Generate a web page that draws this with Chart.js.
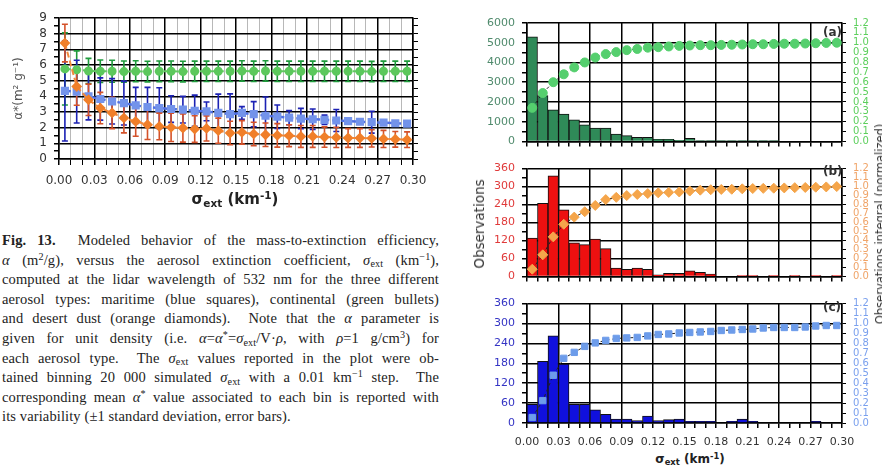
<!DOCTYPE html>
<html><head><meta charset="utf-8">
<script src="https://cdn.jsdelivr.net/npm/chart.js@4/dist/chart.umd.min.js"></script>
<style>
html,body{margin:0;padding:0;background:#fff}
body{width:882px;height:466px;position:relative;overflow:hidden;font-family:"DejaVu Sans",sans-serif}
canvas{position:absolute}
.cap{position:absolute;left:2px;top:231px;width:437px;font-family:"Liberation Serif","Times New Roman",serif;font-size:14.5px;letter-spacing:0.12px;color:#222}
.cap .l{height:19.6px;line-height:19.6px;text-align:justify;text-align-last:justify;white-space:nowrap}
.cap .last{text-align-last:left}
.cap sup,.cap sub{font-size:0.7em;line-height:0;position:relative;vertical-align:baseline}
.cap sup{top:-0.5em}
.cap sub{top:0.25em}
.t{position:absolute;white-space:nowrap;color:#222}
.t sub,.t sup{font-size:0.7em;line-height:0;position:relative;vertical-align:baseline}
.t sup{top:-0.5em}
.t sub{top:0.25em}
.rot{transform:translate(-50%,-50%) rotate(-90deg)}
</style></head><body>
<canvas id="cL" width="440" height="192" style="left:0;top:0"></canvas>
<canvas id="cA" width="412" height="155" style="left:470px;top:0"></canvas>
<canvas id="cB" width="412" height="135" style="left:470px;top:155px"></canvas>
<canvas id="cC" width="412" height="160" style="left:470px;top:290px"></canvas>

<div class="t" style="left:235px;top:199px;transform:translate(-50%,-50%);font-weight:bold;font-size:15px">σ<sub>ext</sub> (km<sup>-1</sup>)</div>
<div class="t" style="left:690px;top:459px;transform:translate(-50%,-50%);font-weight:bold;font-size:12px">σ<sub>ext</sub> (km<sup>-1</sup>)</div>
<div class="t rot" style="left:479px;top:224px;font-size:13.5px;color:#333">Observations</div>
<div class="t rot" style="left:880px;top:224px;font-size:11.5px;color:#333">Observations integral (normalized)</div>
<div class="t" style="left:823px;top:25px;font-size:12px;font-weight:bold;color:#333">(a)</div>
<div class="t" style="left:823px;top:164px;font-size:12px;font-weight:bold;color:#333">(b)</div>
<div class="t" style="left:823px;top:300px;font-size:12px;font-weight:bold;color:#333">(c)</div>

<div class="cap">
<div class="l"><b>Fig. 13.</b>&nbsp; Modeled behavior of the mass-to-extinction efficiency,</div>
<div class="l"><i>α</i> (m<sup>2</sup>/g), versus the aerosol extinction coefficient, <i>σ</i><sub>ext</sub> (km<sup>−1</sup>),</div>
<div class="l">computed at the lidar wavelength of 532 nm for the three different</div>
<div class="l">aerosol types: maritime (blue squares), continental (green bullets)</div>
<div class="l">and desert dust (orange diamonds). &nbsp;Note that the <i>α</i> parameter is</div>
<div class="l">given for unit density (i.e. <i>α</i>=<i>α</i><sup>*</sup>=<i>σ</i><sub>ext</sub>/V·<i>ρ</i>, with <i>ρ</i>=1 g/cm<sup>3</sup>) for</div>
<div class="l">each aerosol type. &nbsp;The <i>σ</i><sub>ext</sub> values reported in the plot were ob-</div>
<div class="l">tained binning 20 000 simulated <i>σ</i><sub>ext</sub> with a 0.01 km<sup>−1</sup> step. &nbsp;The</div>
<div class="l">corresponding mean <i>α</i><sup>*</sup> value associated to each bin is reported with</div>
<div class="l last">its variability (±1 standard deviation, error bars).</div>
</div>

<script>
// ---------- data ----------
const binCenters = [0.005,0.015,0.025,0.035,0.045,0.055,0.065,0.075,0.085,0.095,0.105,0.115,0.125,0.135,0.145,0.155,0.165,0.175,0.185,0.195,0.205,0.215,0.225,0.235,0.245,0.255,0.265,0.275,0.285,0.295];
const xTickLabels = ['0.00','0.03','0.06','0.09','0.12','0.15','0.18','0.21','0.24','0.27','0.30'];
const alphaTickLabels = ['0','1','2','3','4','5','6','7','8','9'];
const obsTickLabelsA = ['0','1000','2000','3000','4000','5000','6000'];
const obsTickLabelsBC = ['0','60','120','180','240','300','360'];
const integralTickLabels = ['0.0','0.1','0.2','0.3','0.4','0.5','0.6','0.7','0.8','0.9','1.0','1.1','1.2'];

// left plot: mean alpha* and standard deviation per bin
const continentalMean = [5.75,5.7,5.62,5.6,5.6,5.58,5.6,5.58,5.6,5.6,5.58,5.6,5.6,5.6,5.6,5.62,5.6,5.62,5.6,5.6,5.6,5.6,5.6,5.6,5.6,5.6,5.58,5.6,5.6,5.6];
const continentalSd   = [2.3,1.2,0.8,0.72,0.7,0.68,0.67,0.66,0.66,0.66,0.66,0.65,0.65,0.65,0.65,0.65,0.65,0.65,0.65,0.65,0.65,0.65,0.65,0.65,0.65,0.65,0.65,0.65,0.65,0.65];
const maritimeMean = [4.35,4.3,4.0,3.83,3.68,3.57,3.42,3.32,3.25,3.19,3.15,3.08,3.04,2.94,2.86,2.94,2.86,2.76,2.7,2.64,2.58,2.54,2.5,2.46,2.42,2.38,2.35,2.32,2.28,2.26];
const maritimeSd   = [3.2,2.0,1.5,1.35,1.45,1.4,1.15,1.25,1.3,0.85,0.85,1.0,0.6,1.2,1.3,0.4,0.8,1.2,0.75,0.45,0.65,0.65,0.3,0.7,0.1,0.1,0.7,0.1,0.1,0.1];
const desertMean = [7.4,4.63,3.78,3.25,2.94,2.62,2.4,2.19,2.08,2.02,1.98,1.91,1.95,1.81,1.66,1.7,1.6,1.55,1.51,1.49,1.44,1.44,1.4,1.38,1.34,1.34,1.32,1.28,1.26,1.23];
const desertSd   = [1.2,1.2,1.0,1.0,1.0,0.95,0.95,0.95,0.85,0.9,0.9,0.85,0.8,0.8,0.75,0.75,0.75,0.75,0.75,0.7,0.7,0.7,0.65,0.65,0.6,0.6,0.55,0.55,0.5,0.5];

// right panels: histogram counts and normalized cumulative integral
const obsA = [5300,2320,1600,1380,1090,840,680,680,370,290,210,210,110,110,50,160,40,40,40,40,40,40,40,40,0,0,0,0,0,0];
const cumA = [0.34,0.49,0.60,0.68,0.75,0.80,0.85,0.885,0.905,0.925,0.937,0.95,0.955,0.962,0.968,0.972,0.975,0.975,0.978,0.98,0.982,0.985,0.985,0.988,0.99,0.99,0.992,0.995,0.998,1.0];
const obsB = [128,244,336,222,112,106,125,93,28,24,28,24,5,10,10,19,14,8,0,0,3,3,0,3,0,3,0,3,0,3];
const cumB = [0.08,0.24,0.44,0.58,0.66,0.72,0.79,0.855,0.88,0.9,0.912,0.922,0.93,0.935,0.94,0.95,0.96,0.965,0.968,0.97,0.975,0.978,0.98,0.982,0.985,0.988,0.99,0.993,0.996,1.0];
const obsC = [56,186,263,178,56,56,40,26,12,12,7,21,7,10,12,5,5,5,0,5,12,5,0,0,0,0,0,5,0,0];
const cumC = [0.055,0.225,0.48,0.65,0.71,0.77,0.805,0.83,0.85,0.855,0.86,0.875,0.89,0.895,0.905,0.91,0.915,0.92,0.93,0.935,0.94,0.945,0.955,0.96,0.96,0.96,0.965,0.975,0.98,0.98];

// ---------- rendering ----------
Chart.defaults.font.family = '"DejaVu Sans", sans-serif';
Chart.defaults.animation = false;

const errorSeries = [
  {mean: continentalMean, sd: continentalSd, color: '#1f9a3c'},
  {mean: maritimeMean, sd: maritimeSd, color: '#1c22b4'},
  {mean: desertMean, sd: desertSd, color: '#d4522a'}
];
const errorBars = {
  id: 'errorBars',
  beforeDatasetsDraw(chart) {
    const {ctx, chartArea: a, scales: {x, y}} = chart;
    ctx.save();
    ctx.beginPath(); ctx.rect(a.left, a.top - 1, a.right - a.left, a.bottom - a.top + 1); ctx.clip();
    errorSeries.forEach(s => {
      ctx.strokeStyle = s.color; ctx.lineWidth = 1.6;
      s.mean.forEach((m, i) => {
        const px = x.getPixelForValue(binCenters[i]);
        const t = y.getPixelForValue(m + s.sd[i]);
        const b = y.getPixelForValue(m - s.sd[i]);
        ctx.beginPath();
        ctx.moveTo(px, t); ctx.lineTo(px, b);
        ctx.moveTo(px - 3, t); ctx.lineTo(px + 3, t);
        ctx.moveTo(px - 3, b); ctx.lineTo(px + 3, b);
        ctx.stroke();
      });
    });
    ctx.restore();
  }
};

function xLabel(v) {
  const k = Math.round(v * 100);
  return k % 3 === 0 ? xTickLabels[k / 3] : '';
}
function isMajorX(v) { return Math.round(v * 100) % 3 === 0; }

const pts = arr => binCenters.map((x, i) => ({x, y: arr[i]}));

new Chart(document.getElementById('cL'), {
  type: 'line',
  data: {datasets: [
    {label: 'desert dust', data: pts(desertMean), borderColor: '#f28a3c', borderWidth: 2, borderDash: [6, 3],
     pointStyle: 'rectRot', pointRadius: 4, pointBackgroundColor: '#f07f2a', pointBorderColor: '#f07f2a'},
    {label: 'maritime', data: pts(maritimeMean), borderColor: '#4f6fe4', borderWidth: 2.5, borderDash: [6, 3],
     pointStyle: 'rect', pointRadius: 4, pointBackgroundColor: '#7393ea', pointBorderColor: '#7393ea'},
    {label: 'continental', data: pts(continentalMean), borderColor: '#62c862', borderWidth: 2, borderDash: [6, 3],
     pointStyle: 'circle', pointRadius: 3.5, pointBackgroundColor: '#5cc85c', pointBorderColor: '#5cc85c'}
  ]},
  options: {
    responsive: false, devicePixelRatio: 1,
    layout: {padding: {top: 18, left: 0, right: 0, bottom: 0}},
    plugins: {legend: {display: false}, tooltip: {enabled: false}},
    scales: {
      x: {type: 'linear', min: 0, max: 0.3, offset: false,
        ticks: {stepSize: 0.01, autoSkip: false, maxRotation: 0, minRotation: 0, callback: xLabel,
          font: {size: 12}, color: '#333', padding: 9},
        grid: {color: c => isMajorX(c.tick.value) ? '#000' : '#b8b8b8', lineWidth: c => isMajorX(c.tick.value) ? 1.5 : 1,
          tickColor: '#000', tickLength: 6},
        border: {color: '#000', width: 1.5},
        afterFit(s) { s.height = 33; }},
      y: {min: 0, max: 9,
        ticks: {stepSize: 0.5, autoSkip: false, callback: v => Number.isInteger(v) ? alphaTickLabels[v] : '',
          font: {size: 12}, color: '#333', padding: 7},
        grid: {color: c => Number.isInteger(c.tick.value) ? '#000' : 'rgba(0,0,0,0)', lineWidth: 1.5, tickColor: '#000', tickLength: 5},
        border: {color: '#000', width: 1.5},
        title: {display: true, text: 'α*(m² g⁻¹)', font: {size: 12}, color: '#555', padding: {top: 12, bottom: 0}},
        afterFit(s) { s.width = 59; }},
      y2: {position: 'right', min: 0, max: 9,
        ticks: {stepSize: 0.5, autoSkip: false, callback: () => ''},
        grid: {drawOnChartArea: false, tickColor: '#000', tickLength: 5},
        border: {color: '#000', width: 1.5},
        afterFit(s) { s.width = 27; }}
    }
  },
  plugins: [errorBars]
});

function panel(id, obs, cum, o) {
  return new Chart(document.getElementById(id), {
    type: 'bar',
    data: {datasets: [
      {type: 'line', order: 0, yAxisID: 'y1', data: pts(cum), borderColor: '#222', borderWidth: 1, borderDash: [3, 3],
       pointStyle: o.pStyle, pointRadius: o.pRadius, pointBackgroundColor: o.pColor, pointBorderColor: o.pColor},
      {type: 'bar', order: 1, yAxisID: 'y', data: pts(obs), backgroundColor: o.barColor, borderColor: '#111', borderWidth: 1,
       categoryPercentage: 1, barPercentage: 1}
    ]},
    options: {
      responsive: false, devicePixelRatio: 1,
      layout: {padding: {top: o.padTop, left: 0, right: 0, bottom: 0}},
      plugins: {legend: {display: false}, tooltip: {enabled: false}},
      scales: {
        x: {type: 'linear', min: 0, max: 0.3, offset: false,
          ticks: {stepSize: 0.01, autoSkip: false, maxRotation: 0, minRotation: 0,
            callback: v => o.xLabels ? xLabel(v) : '', font: {size: 11}, color: '#333', padding: 8},
          grid: {offset: false, color: c => isMajorX(c.tick.value) ? '#000' : 'rgba(0,0,0,0)', lineWidth: 1.5,
            tickColor: '#000', tickLength: 5},
          border: {color: '#000', width: 1.5},
          afterFit(s) { s.height = o.xH; }},
        y: {position: 'left', min: 0, max: o.yMax,
          ticks: {stepSize: o.yStep / 2, autoSkip: false,
            callback: v => (v % o.yStep === 0) ? o.yLabels[v / o.yStep] : '',
            font: {size: 11}, color: o.leftColor, padding: 7},
          grid: {color: c => (c.tick.value % o.yStep === 0) ? '#000' : 'rgba(0,0,0,0)', lineWidth: 1.5,
            tickColor: '#000', tickLength: 5},
          border: {color: '#000', width: 1.5},
          afterFit(s) { s.width = 57; }},
        y1: {position: 'right', min: 0, max: 1.2,
          ticks: {stepSize: 0.1, autoSkip: false, callback: v => integralTickLabels[Math.round(v * 10)],
            font: {size: 10}, color: o.rightColor, padding: 7},
          grid: {drawOnChartArea: false, tickColor: '#000', tickLength: 4},
          border: {color: '#000', width: 1.5},
          afterFit(s) { s.width = 40; }}
      }
    }
  });
}

panel('cA', obsA, cumA, {barColor: '#2f8a58', pColor: '#55cf6e', pStyle: 'circle', pRadius: 4.5,
  leftColor: '#4f8a6c', rightColor: '#5ccf5c', yMax: 6000, yStep: 1000, yLabels: obsTickLabelsA, padTop: 23, xH: 7, xLabels: false});
panel('cB', obsB, cumB, {barColor: '#ee1010', pColor: '#f5a54a', pStyle: 'rectRot', pRadius: 5,
  leftColor: '#e03a3a', rightColor: '#f0a468', yMax: 360, yStep: 60, yLabels: obsTickLabelsBC, padTop: 5, xH: 4, xLabels: false});
panel('cC', obsC, cumC, {barColor: '#1010dd', pColor: '#6d9cea', pStyle: 'rect', pRadius: 4.5,
  leftColor: '#3434c4', rightColor: '#7aa0ee', yMax: 360, yStep: 60, yLabels: obsTickLabelsBC, padTop: 9, xH: 27, xLabels: true});
</script>
</body></html>
